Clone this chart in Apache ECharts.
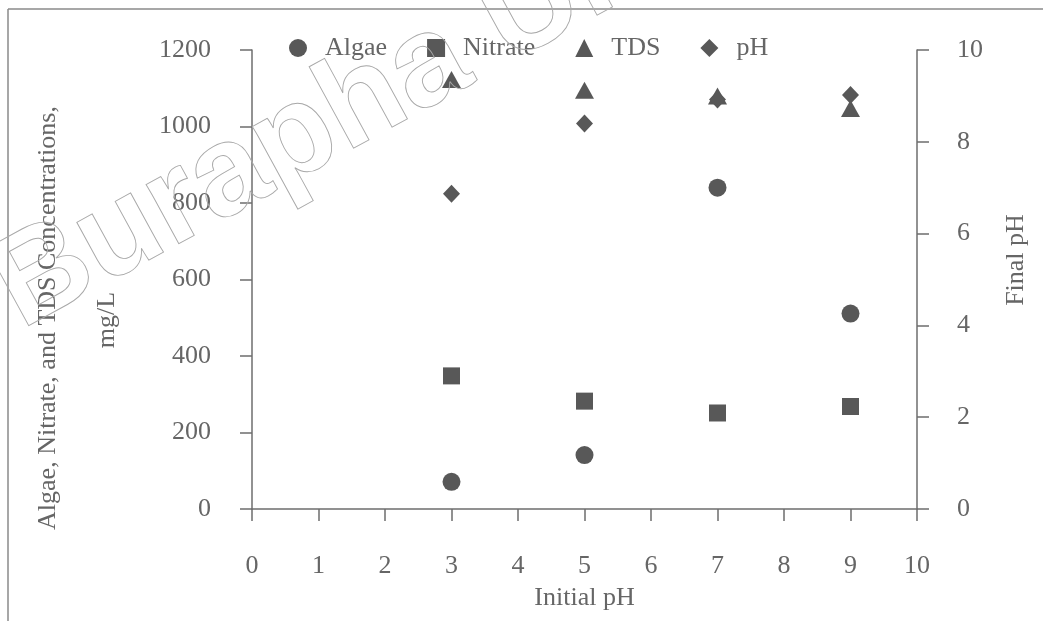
<!DOCTYPE html>
<html>
<head>
<meta charset="utf-8">
<script src="https://cdn.jsdelivr.net/npm/echarts@6/dist/echarts.min.js"></script>
<style>
  html, body { margin: 0; padding: 0; background: #ffffff; }
  #chart { width: 1043px; height: 624px; }
</style>
</head>
<body>
<div id="chart"></div>
<script>
// Initial pH of each run and the measured results
const initialPH = [3, 5, 7, 9];
const algae = [71, 141, 840, 511];       // mg/L
const nitrate = [348, 282, 251, 268];    // mg/L
const tds = [1123, 1095, 1080, 1047];    // mg/L
const finalPH = [6.87, 8.4, 8.92, 9.02];

// Axis ticks
const xTicks = [0, 1, 2, 3, 4, 5, 6, 7, 8, 9, 10];
const concTicks = [0, 200, 400, 600, 800, 1000, 1200];
const phTicks = [0, 2, 4, 6, 8, 10];

const FONT = '"Liberation Serif", "Times New Roman", serif';
const TEXT = '#666666';
const AXIS = '#6e6e6e';
const MARK = '#585858';

const pairs = (ys) => initialPH.map((x, i) => [x, ys[i]]);

const axisCommon = {
  axisLine: { show: true, onZero: false, lineStyle: { color: AXIS, width: 1.5 } },
  axisTick: { show: true, inside: false, length: 12, lineStyle: { color: AXIS, width: 1.5 } },
  splitLine: { show: false },
  axisLabel: { color: TEXT, fontFamily: FONT, fontSize: 26, formatter: (v) => String(v) }
};

const chart = echarts.init(document.getElementById('chart'), null, { renderer: 'canvas' });

chart.setOption({
  backgroundColor: '#ffffff',
  animation: false,
  grid: { left: 252, right: 126, top: 50, bottom: 115, containLabel: false, outerBoundsMode: 'none' },
  legend: {
    left: 289,
    top: 35,
    padding: 0,
    orient: 'horizontal',
    itemWidth: 18,
    itemHeight: 18,
    itemGap: 40,
    textStyle: { color: TEXT, fontFamily: FONT, fontSize: 26, padding: [0, 0, 0, 13] },
    data: ['Algae', 'Nitrate', 'TDS', 'pH']
  },
  xAxis: {
    type: 'value',
    min: xTicks[0],
    max: xTicks[xTicks.length - 1],
    interval: xTicks[1] - xTicks[0],
    ...axisCommon,
    axisLabel: { ...axisCommon.axisLabel, margin: 44 },
    name: 'Initial pH',
    nameLocation: 'middle',
    nameGap: 76,
    nameTextStyle: { color: TEXT, fontFamily: FONT, fontSize: 26 }
  },
  yAxis: [
    {
      type: 'value',
      position: 'left',
      min: concTicks[0],
      max: concTicks[concTicks.length - 1],
      interval: concTicks[1] - concTicks[0],
      ...axisCommon,
      axisLabel: { ...axisCommon.axisLabel, margin: 41 }
    },
    {
      type: 'value',
      position: 'right',
      min: phTicks[0],
      max: phTicks[phTicks.length - 1],
      interval: phTicks[1] - phTicks[0],
      ...axisCommon,
      axisLabel: { ...axisCommon.axisLabel, margin: 40 }
    }
  ],
  series: [
    {
      name: 'Algae', type: 'scatter', yAxisIndex: 0,
      symbol: 'circle', symbolSize: 18,
      itemStyle: { color: MARK, opacity: 1 },
      data: pairs(algae)
    },
    {
      name: 'Nitrate', type: 'scatter', yAxisIndex: 0,
      symbol: 'rect', symbolSize: 17,
      itemStyle: { color: MARK, opacity: 1 },
      data: pairs(nitrate)
    },
    {
      name: 'TDS', type: 'scatter', yAxisIndex: 0,
      symbol: 'triangle', symbolSize: [19, 17],
      itemStyle: { color: MARK, opacity: 1 },
      data: pairs(tds)
    },
    {
      name: 'pH', type: 'scatter', yAxisIndex: 1,
      symbol: 'diamond', symbolSize: [17, 18],
      itemStyle: { color: MARK, opacity: 1 },
      data: pairs(finalPH)
    }
  ],
  graphic: [
    // page frame (top and left edges)
    { type: 'line', silent: true, shape: { x1: 8, y1: 9, x2: 1043, y2: 9 }, style: { stroke: '#8a8a8a', lineWidth: 1.5 } },
    { type: 'line', silent: true, shape: { x1: 8, y1: 9, x2: 8, y2: 621 }, style: { stroke: '#8a8a8a', lineWidth: 1.5 } },
    // left axis title, two lines
    {
      type: 'text', x: 48, y: 318, rotation: Math.PI / 2, silent: true,
      style: { text: 'Algae, Nitrate, and TDS Concentrations,', font: '26px ' + FONT, fill: TEXT,
               align: 'center', verticalAlign: 'middle', textAlign: 'center', textVerticalAlign: 'middle' }
    },
    {
      type: 'text', x: 107, y: 320, rotation: Math.PI / 2, silent: true,
      style: { text: 'mg/L', font: '26px ' + FONT, fill: TEXT,
               align: 'center', verticalAlign: 'middle', textAlign: 'center', textVerticalAlign: 'middle' }
    },
    // right axis title
    {
      type: 'text', x: 1016, y: 260, rotation: Math.PI / 2, silent: true,
      style: { text: 'Final pH', font: '26px ' + FONT, fill: TEXT,
               align: 'center', verticalAlign: 'middle', textAlign: 'center', textVerticalAlign: 'middle' }
    },
    // outlined watermark
    {
      type: 'text', x: 35, y: 355, rotation: 0.5, silent: true, z: 100,
      style: { text: 'Burapha University', font: 'bold 128px "Liberation Sans", sans-serif',
               fill: 'rgba(0,0,0,0)', stroke: '#a8a8a8', lineWidth: 0.9,
               align: 'left', verticalAlign: 'bottom', textAlign: 'left', textVerticalAlign: 'bottom' }
    }
  ]
});
</script>
</body>
</html>
